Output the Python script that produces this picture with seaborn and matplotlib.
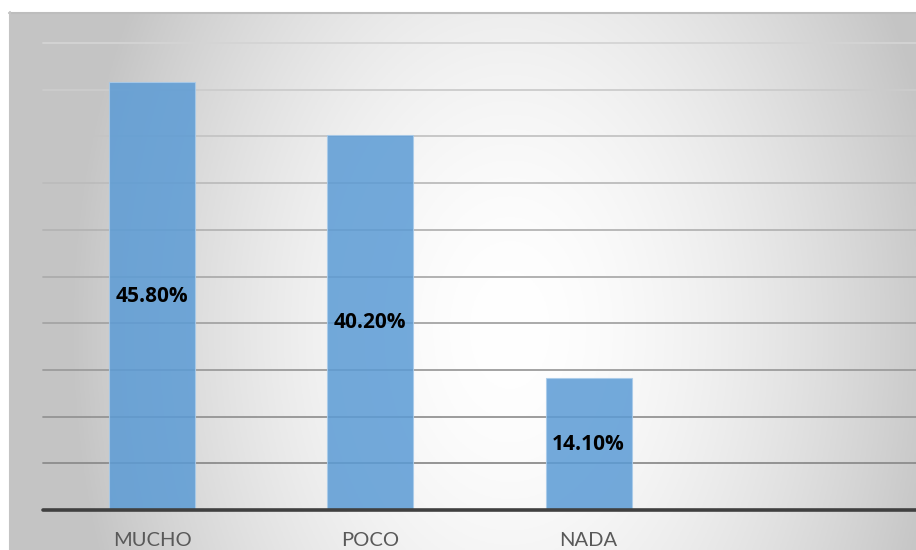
import numpy as np
import pandas as pd
import matplotlib
matplotlib.use("Agg")
import matplotlib.pyplot as plt
import seaborn as sns

categories = ["MUCHO", "POCO", "NADA"]
values = [45.8, 40.2, 14.1]
value_labels = ["45.80%", "40.20%", "14.10%"]
slot_order = ["MUCHO", "POCO", "NADA", " "]
y_ticks = [5, 10, 15, 20, 25, 30, 35, 40, 45, 50]

sns.set_theme(style="white")
plt.rcParams["font.family"] = ["Lato", "DejaVu Sans"]

W, H = 916, 550
fig = plt.figure(figsize=(W / 100, H / 100), dpi=100)
fig.patch.set_facecolor("white")

# background radial gradient panel
bx0, by0 = 9, 12
bg = fig.add_axes([bx0 / W, 0, 1 - bx0 / W, 1 - by0 / H])
bg.set_zorder(0)
xs = np.linspace(bx0, W, 400)
ys = np.linspace(by0, H, 300)
X, Y = np.meshgrid(xs, ys)
d = np.sqrt(((X - 510) / 440) ** 2 + ((Y - 330) / 650) ** 2)
d = np.clip(d, 0, 1)
v = 1 - 0.23 * d ** 1.7
img = np.dstack([v, v, v])
bg.imshow(img, extent=[0, 1, 0, 1], aspect="auto", origin="upper")
bg.set_xlim(0, 1)
bg.set_ylim(0, 1)
bg.axis("off")
bg.plot([0, 1], [0.998, 0.998], color="#bdbdbd", lw=1.5, transform=bg.transAxes, clip_on=False)
bg.plot([0.001, 0.001], [0, 1], color="#c4c4c4", lw=1.5, transform=bg.transAxes, clip_on=False)

# main axes
x0, x1 = 43, 916
y_base, y_top = 510, 43
ax = fig.add_axes([x0 / W, (H - y_base) / H, (x1 - x0) / W, (y_base - y_top) / H])
ax.set_zorder(1)
ax.patch.set_alpha(0)

df = pd.DataFrame({"cat": categories, "val": values})
sns.barplot(data=df, x="cat", y="val", order=slot_order, color="#5B9BD5",
            width=0.395, saturation=1, ax=ax, zorder=3, alpha=0.85,
            edgecolor="#A9CBEA", linewidth=0.8)

ax.set_xlim(-0.5, 3.5)
ax.set_ylim(0, 50)

# gridlines, darker toward the bottom
c_bottom = np.array([0x8c, 0x8c, 0x8c]) / 255
c_top = np.array([0xd4, 0xd4, 0xd4]) / 255
for t in y_ticks:
    f = (t - 5) / 45
    c = c_bottom + (c_top - c_bottom) * f
    ax.axhline(t, color=c, lw=1.3, zorder=2, clip_on=False)
ax.axhline(0, color="#404040", lw=2.6, zorder=4, clip_on=False)

for i, (val, lab) in enumerate(zip(values, value_labels)):
    ax.text(i, val / 2, lab, ha="center", va="center", fontsize=15,
            fontweight="bold", color="black", zorder=5,
            family=["Open Sans", "DejaVu Sans"])

for s in ax.spines.values():
    s.set_visible(False)
ax.set_yticks([])
ax.set_xlabel("")
ax.set_ylabel("")
ax.tick_params(axis="x", length=0, pad=16, labelsize=14.5, labelcolor="#595959")

fig.savefig("out.png", dpi=100)
